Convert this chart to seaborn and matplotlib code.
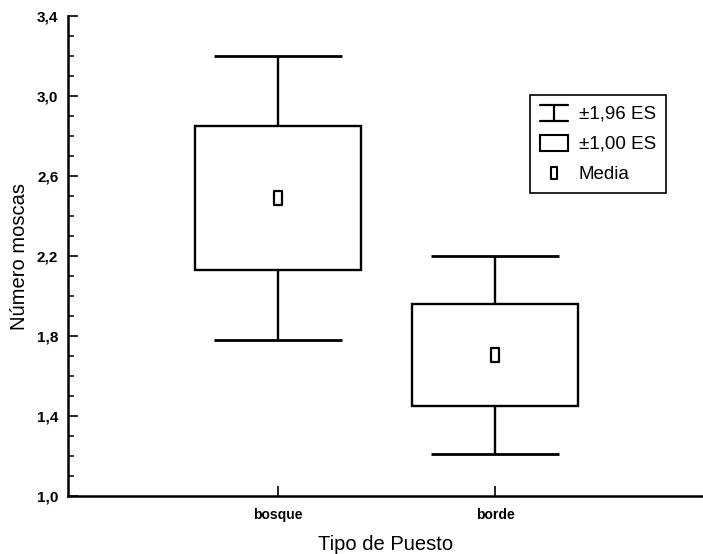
import numpy as np
import pandas as pd
import matplotlib
matplotlib.use("Agg")
import matplotlib.pyplot as plt
from matplotlib.path import Path
from matplotlib.lines import Line2D
from matplotlib.patches import Rectangle
from matplotlib.legend_handler import HandlerBase
from matplotlib.ticker import FixedLocator, FuncFormatter
import seaborn as sns

# Mean number of flies per stand type, with standard errors
tipos = ["bosque", "borde"]
medias = [2.49, 1.705]
errores = [0.362, 0.253]
y_ticks = [1.0, 1.4, 1.8, 2.2, 2.6, 3.0, 3.4]

sns.set_style("ticks")
plt.rcParams["font.family"] = ["Liberation Sans", "DejaVu Sans"]
plt.rcParams["text.color"] = "black"
plt.rcParams["axes.labelcolor"] = "black"

df = pd.DataFrame({"tipo": tipos, "media": medias, "es": errores})
m = df["media"].to_numpy()
es = df["es"].to_numpy()

fig = plt.figure(figsize=(7.03, 5.54), dpi=100)
ax = fig.add_axes([0.0967, 0.1047, 0.9033, 0.8664])

# slightly tall hollow square for the mean
rect_marker = Path([(-0.62, -1), (0.62, -1), (0.62, 1), (-0.62, 1), (-0.62, -1)],
                   [Path.MOVETO, Path.LINETO, Path.LINETO, Path.LINETO, Path.CLOSEPOLY])

sns.pointplot(data=df, x="tipo", y="media", order=tipos, color="black",
              linestyle="none", marker=rect_marker, markersize=10,
              markerfacecolor="white", markeredgecolor="black",
              markeredgewidth=1.6, errorbar=None, ax=ax, zorder=5)

pos = np.arange(len(tipos))
box_w = 0.765
cap_w = 0.59
lw = 1.7

# +-1.96 SE whiskers
ax.vlines(pos, m - 1.96 * es, m + 1.96 * es, color="black", lw=lw, zorder=1)
ax.hlines(m + 1.96 * es, pos - cap_w / 2, pos + cap_w / 2, color="black", lw=lw + 0.3, zorder=1)
ax.hlines(m - 1.96 * es, pos - cap_w / 2, pos + cap_w / 2, color="black", lw=lw + 0.3, zorder=1)

# +-1.00 SE boxes
ax.bar(pos, 2 * es, bottom=m - es, width=box_w, facecolor="white",
       edgecolor="black", linewidth=lw, zorder=2)

ax.set_xlim(-0.968, 1.959)
ax.set_ylim(1.0, 3.4)
ax.yaxis.set_major_locator(FixedLocator(y_ticks))
ax.yaxis.set_minor_locator(FixedLocator(np.round(np.arange(1.0, 3.41, 0.1), 2)))
ax.yaxis.set_major_formatter(FuncFormatter(lambda v, p: f"{v:.1f}".replace(".", ",")))
ax.set_xticks(pos)
ax.set_xticklabels(tipos)

ax.tick_params(axis="y", which="major", direction="in", length=7, width=1.2,
               labelsize=11, pad=7, color="black", labelcolor="black")
ax.tick_params(axis="y", which="minor", direction="in", length=4, width=1.1, color="black")
ax.tick_params(axis="x", which="major", direction="in", length=7, width=1.2,
               labelsize=10, pad=9, color="black", labelcolor="black")
for t in ax.get_yticklabels() + ax.get_xticklabels():
    t.set_fontweight("bold")

for s in ["top", "right"]:
    ax.spines[s].set_visible(False)
for s in ["left", "bottom"]:
    ax.spines[s].set_linewidth(1.8)
    ax.spines[s].set_color("black")

ax.set_xlabel("Tipo de Puesto", fontsize=14.5, labelpad=9)
ax.set_ylabel("Número moscas", fontsize=14.5, labelpad=6)


class CapHandler(HandlerBase):
    def create_artists(self, legend, orig_handle, xdescent, ydescent,
                       width, height, fontsize, trans):
        x0, x1 = -xdescent, -xdescent + width
        y0, y1 = -ydescent - 0.15 * height, -ydescent + 1.05 * height
        xm = (x0 + x1) / 2
        return [Line2D([x0, x1], [y1, y1], color="black", lw=1.6, transform=trans),
                Line2D([x0, x1], [y0, y0], color="black", lw=1.6, transform=trans),
                Line2D([xm, xm], [y0, y1], color="black", lw=1.6, transform=trans)]


class BoxHandler(HandlerBase):
    def create_artists(self, legend, orig_handle, xdescent, ydescent,
                       width, height, fontsize, trans):
        r = Rectangle((-xdescent, -ydescent - 0.15 * height), width, 1.2 * height,
                      facecolor="white", edgecolor="black", lw=1.5, transform=trans)
        return [r]


class MeanHandler(HandlerBase):
    def create_artists(self, legend, orig_handle, xdescent, ydescent,
                       width, height, fontsize, trans):
        ln = Line2D([-xdescent + width / 2], [-ydescent + height / 2], marker=rect_marker,
                    markersize=8, markerfacecolor="white", markeredgecolor="black",
                    markeredgewidth=1.5, linestyle="none", transform=trans)
        return [ln]


h_cap, h_box, h_mean = object(), object(), object()
leg = ax.legend([h_cap, h_box, h_mean], ["±1,96 ES", "±1,00 ES", "Media"],
                handler_map={h_cap: CapHandler(), h_box: BoxHandler(), h_mean: MeanHandler()},
                loc="upper left", bbox_to_anchor=(0.7276, 0.835), fontsize=13.5,
                frameon=True, fancybox=False, edgecolor="black", framealpha=1,
                handlelength=1.45, handletextpad=0.6, labelspacing=0.7,
                borderpad=0.55, borderaxespad=0)
leg.get_frame().set_linewidth(1.2)
for t in leg.get_texts():
    t.set_color("black")

fig.savefig("out.png", dpi=100)
